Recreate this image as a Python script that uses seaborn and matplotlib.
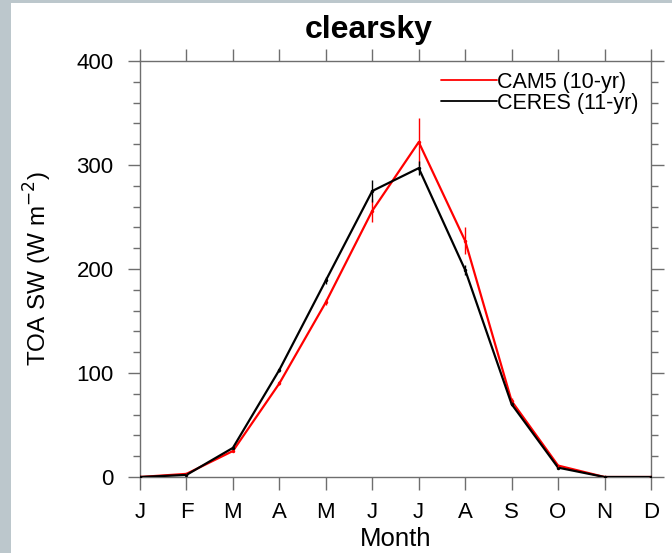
import matplotlib
matplotlib.use("Agg")
import matplotlib.pyplot as plt
import matplotlib.patches as mpatches
from matplotlib.ticker import MultipleLocator
import seaborn as sns
import pandas as pd

sns.set_theme(style="white")
plt.rcParams['font.family'] = ['Liberation Sans', 'DejaVu Sans']
plt.rcParams['text.color'] = 'black'
plt.rcParams['axes.labelcolor'] = 'black'

months = ["J", "F", "M", "A", "M", "J", "J", "A", "S", "O", "N", "D"]
month_idx = list(range(12))
cam5 = [0, 3, 25, 90, 168, 256, 322, 227, 73, 11, 0, 0]
cam5_err = [0, 0.5, 1, 2, 3, 11, 23, 13, 3, 1, 0, 0]
ceres = [0, 2, 28, 103, 189, 275, 297, 199, 70, 9, 0, 0]
ceres_err = [0, 0.5, 1, 2, 3, 11, 7, 5, 2, 1, 0, 0]
series_names = ["CAM5 (10-yr)", "CERES (11-yr)"]
colors = ["#ff0000", "#000000"]

df = pd.concat([
    pd.DataFrame({"m": month_idx, "v": cam5, "e": cam5_err, "s": series_names[0]}),
    pd.DataFrame({"m": month_idx, "v": ceres, "e": ceres_err, "s": series_names[1]}),
])

fig = plt.figure(figsize=(6.72, 5.53), dpi=100)
fig.patch.set_facecolor("#bcc7cc")
fig.patches.append(mpatches.Rectangle((11 / 672, 0), 1, 1 - 3 / 553,
                                      transform=fig.transFigure, facecolor="white",
                                      edgecolor="none", zorder=-5))

ax = fig.add_axes([140 / 672, 1 - 477 / 553, (651 - 140) / 672, (477 - 61) / 553])
ax.set_zorder(2)
ax.set_facecolor("white")

pal = dict(zip(series_names, colors))
sns.lineplot(data=df, x="m", y="v", hue="s", palette=pal, hue_order=series_names,
             linewidth=1.6, marker="o", markersize=2.5, markeredgewidth=0,
             ax=ax, legend=True, zorder=3)
for name, c in zip(series_names, colors):
    sub = df[df.s == name]
    ax.vlines(sub.m, sub.v - sub.e, sub.v + sub.e, color=c, linewidth=1.0, zorder=3)

ax.set_xlim(0, 11)
ax.set_ylim(0, 400)
ax.set_xticks(month_idx)
ax.set_xticklabels(months)
ax.yaxis.set_major_locator(MultipleLocator(100))
ax.yaxis.set_minor_locator(MultipleLocator(20))

spc = "#6e6e6e"
for sp in ax.spines.values():
    sp.set_visible(True)
    sp.set_color(spc)
    sp.set_linewidth(1.0)
ax.tick_params(axis="both", which="major", direction="out", length=9, width=1.0,
               color=spc, labelsize=16, labelcolor="black", pad=10,
               top=True, right=True, bottom=True, left=True)
ax.tick_params(axis="x", which="major", pad=9)
ax.tick_params(axis="y", which="minor", direction="out", length=5, width=1.0,
               color=spc, left=True, right=True)

ax.set_xlabel("Month", fontsize=18.5, labelpad=3)
ax.set_ylabel("TOA SW (W m$^{\\mathsf{-2}}$)", fontsize=17.5, labelpad=16)

leg = ax.legend(loc="upper right", bbox_to_anchor=(1.005, 1.01), frameon=False,
                fontsize=15.5, handlelength=2.6, handletextpad=0.0,
                labelspacing=0.0, borderpad=0.2)
for h in leg.get_lines():
    h.set_linewidth(1.3)
    h.set_marker("")

fig.text(369 / 672, 1 - 30 / 553, "clearsky", ha="center", va="center",
         fontsize=23, fontweight="bold", color="black")

fig.savefig("out.png", dpi=100, facecolor=fig.get_facecolor())
